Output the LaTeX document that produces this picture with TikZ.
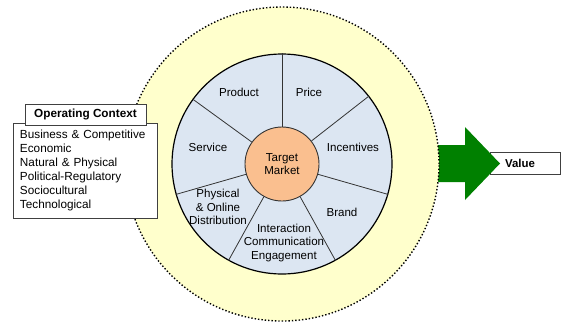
\documentclass[tikz,border=0pt]{standalone}
\usepackage{fontspec}
\setmainfont{Liberation Sans}

\definecolor{envyellow}{RGB}{255,255,204}
\definecolor{wheelblue}{RGB}{220,230,242}
\definecolor{marketorange}{RGB}{250,191,143}
\definecolor{valuegreen}{RGB}{0,128,0}

\tikzset{
  mixlabel/.style={font=\fontsize{11.6}{13.5}\selectfont, align=center},
  framebox/.style={draw=black!75, line width=0.9bp, fill=white},
}

\begin{document}
\begin{tikzpicture}[x=1bp, y=1bp]
      \useasboundingbox (0,0) rectangle (572,331);
      \node[framebox, minimum width=70bp, minimum height=22bp, text width=40bp, align=left, inner sep=0pt, font=\fontsize{11.5}{14}\selectfont\bfseries] (value) at (525,168) {Value};
      \fill[valuegreen] (420,149) -- (465,149) -- (465,131) -- (500,167.5) -- (465,204) -- (465,186) -- (420,186) -- cycle;
      \filldraw[fill=envyellow, draw=black, line width=1.4bp, dotted] (282,167) circle (157);
      \node[circle, draw, fill=wheelblue, line width=1.2bp, minimum size=220bp, inner sep=0pt] (wheel) at (282,167) {};
      \node[circle, draw=black!80, fill=marketorange, line width=0.9bp, minimum size=74bp, inner sep=0pt, mixlabel] (market) at (282,167) {Target\\Market};
      \foreach \ang in {90,38,344.5,299,241.5,196,144}
        \draw[line width=0.8bp, black!80] (market.\ang) -- (wheel.\ang);
      \node[mixlabel] (product)     at (239,239) {Product};
      \node[mixlabel] (price)       at (309,239) {Price};
      \node[mixlabel] (incentives)  at (353,184) {Incentives};
      \node[mixlabel] (brand)       at (342,119) {Brand};
      \node[mixlabel] (interaction) at (284,88)  {Interaction\\Communication\\Engagement};
      \node[mixlabel] (distrib)     at (218,124) {Physical\\\& Online\\Distribution};
      \node[mixlabel] (service)     at (208,184) {Service};
      \node[framebox, minimum width=144bp, minimum height=95bp, text width=130bp, align=left, inner sep=0pt, font=\fontsize{11.8}{14.2}\selectfont] (context) at (85,160.5)
        {Business \& Competitive\\Economic\\Natural \& Physical\\Political-Regulatory\\Sociocultural\\Technological};
      \node[framebox, minimum width=121bp, minimum height=21bp, inner sep=0pt, font=\fontsize{11.8}{14}\selectfont\bfseries] (contexttitle) at (85.5,216.5) {Operating Context};
    \end{tikzpicture}
\end{document}
